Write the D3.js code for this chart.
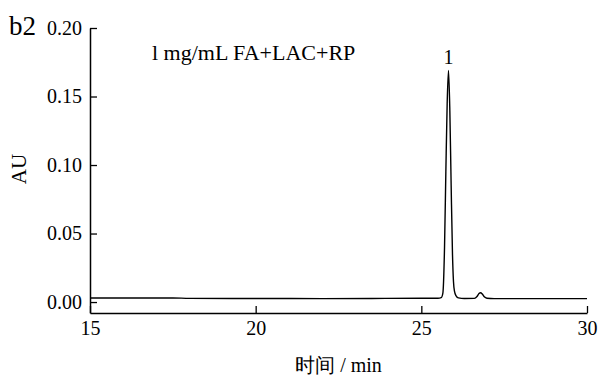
<!DOCTYPE html>
<html>
<head>
<meta charset="utf-8">
<script src="https://cdn.jsdelivr.net/npm/d3@7"></script>
<style>
  body { margin: 0; background: #fff; }
  svg { display: block; }
  text { font-family: "Liberation Serif", "DejaVu Serif", serif; fill: #000; }
</style>
</head>
<body>
<svg id="chart" width="599" height="376"></svg>
<script>
// chromatogram points (time in min, AU)
const times = [15.0, 17.5, 18.0, 20.0, 22.0, 23.5, 25.0, 25.5, 25.60, 25.65, 25.70, 25.74, 25.78, 25.82,
  25.86, 25.90, 25.94, 25.97, 26.00, 26.05, 26.12, 26.3, 26.6, 26.68, 26.74, 26.79, 26.84, 26.90, 26.98, 27.2, 30.0];
const signal = [0.0030, 0.0030, 0.0027, 0.0026, 0.0025, 0.0026, 0.0028, 0.0028, 0.0032, 0.0065, 0.040, 0.095, 0.145, 0.169,
  0.140, 0.085, 0.035, 0.015, 0.008, 0.0045, 0.0030, 0.0026, 0.0027, 0.0040, 0.0062, 0.0068, 0.0058, 0.0038, 0.0028, 0.0025, 0.0025];

const xTicks = [15, 20, 25, 30];
const yTicks = [0, 0.05, 0.10, 0.15, 0.20];
const peakLabels = [{ t: 25.82, v: 0.169, name: '1' }];

const svg = d3.select('#chart');
const margin = { top: 28, right: 12, bottom: 63, left: 90 };
const width = 599 - margin.left - margin.right;
const height = 376 - margin.top - margin.bottom;

const x = d3.scaleLinear().domain([15, 30]).range([0, width]);
const y = d3.scaleLinear().domain([-0.008, 0.20]).range([height, 0]);

const g = svg.append('g').attr('transform', `translate(${margin.left},${margin.top})`);

const xAxis = g.append('g')
  .attr('transform', `translate(0,${height})`)
  .call(d3.axisBottom(x).tickValues(xTicks).tickSizeInner(-7).tickSizeOuter(0).tickPadding(8).tickFormat(d3.format('d')));
const yAxis = g.append('g')
  .call(d3.axisLeft(y).tickValues(yTicks).tickSizeInner(-7).tickSizeOuter(0).tickPadding(8).tickFormat(d3.format('.2f')));

[xAxis, yAxis].forEach(a => {
  a.select('.domain').attr('stroke', '#000').attr('stroke-width', 1.5);
  a.selectAll('.tick line').attr('stroke', '#000').attr('stroke-width', 1.3);
  a.selectAll('.tick text').attr('font-size', 20).attr('font-family', '"Liberation Serif", serif').attr('fill', '#000');
});

const line = d3.line()
  .x((d, i) => x(times[i]))
  .y(d => y(d))
  .curve(d3.curveMonotoneX);

g.append('path')
  .datum(signal)
  .attr('fill', 'none')
  .attr('stroke', '#000')
  .attr('stroke-width', 1.4)
  .attr('d', line);

g.selectAll('.peak-label')
  .data(peakLabels)
  .enter().append('text')
    .attr('class', 'peak-label')
    .attr('x', d => x(d.t))
    .attr('y', d => y(d.v) - 6)
    .attr('text-anchor', 'middle')
    .attr('font-size', 20)
    .text(d => d.name);

g.append('text')
  .attr('x', 62)
  .attr('y', 32)
  .attr('font-size', 22)
  .text('l mg/mL FA+LAC+RP');

svg.append('text')
  .attr('x', 9)
  .attr('y', 35)
  .attr('font-size', 27)
  .text('b2');

svg.append('text')
  .attr('transform', `translate(26,169) rotate(-90)`)
  .attr('text-anchor', 'middle')
  .attr('font-size', 21)
  .text('AU');

svg.append('text')
  .attr('x', margin.left + width / 2)
  .attr('y', 372)
  .attr('text-anchor', 'middle')
  .attr('font-size', 20)
  .attr('font-family', '"Noto Sans CJK SC", "Liberation Serif", serif')
  .text('时间 / min');
</script>
</body>
</html>
